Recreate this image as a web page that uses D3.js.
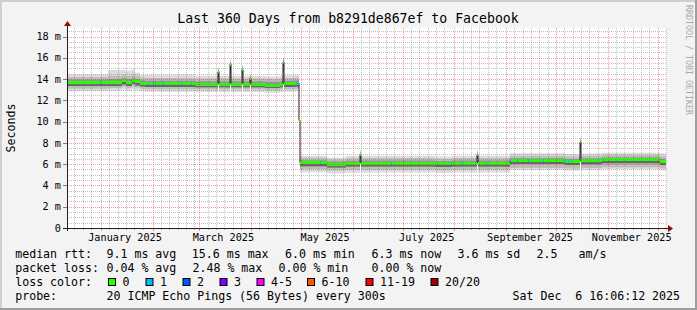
<!DOCTYPE html>
<html>
<head>
<meta charset="utf-8">
<script src="https://cdn.jsdelivr.net/npm/d3@7"></script>
<style>
  body { margin: 0; background: #f3f3f3; }
  svg { display: block; }
  text { font-family: "DejaVu Sans Mono", monospace; white-space: pre; }
</style>
</head>
<body>
<script>
// graph covers 360 days ending Sat Dec 6 16:06:12 2025
const startMs = Date.UTC(2024, 11, 11, 16, 6, 12);
const spanDays = 360;
const endDay = 359.4;   // last consolidated sample

// step data: each value holds from stepDay[i] until the next breakpoint (days after start)
const stepDay = [0, 24.6, 33.0, 35.4, 39.0, 40.8, 43.8, 46.8, 76.8, 90.6,
  91.2, 97.8, 98.4, 105.0, 105.6, 109.8, 110.4, 118.8, 127.8, 129.6,
  130.2, 136.8, 139.2, 139.8, 156.0, 167.4, 175.8, 176.4, 220.8, 231.0,
  246.0, 246.6, 265.8, 298.8, 307.8, 308.4, 321.0, 355.8];

// median rtt (ms)
const median = [13.68, 13.70, 13.85, 13.70, 13.90, 13.75, 13.62, 13.55, 13.50, 14.70,
  13.50, 15.40, 13.50, 14.90, 13.50, 14.10, 13.50, 13.44, 13.50, 15.60,
  13.55, 13.62, 10.10, 6.12, 6.00, 6.08, 6.90, 6.10, 6.05, 6.10,
  6.90, 6.10, 6.33, 6.22, 8.10, 6.30, 6.46, 6.25];

// smoke: spread of the 20 pings (ms), lowest .. highest
const smokeQ0 = [12.85, 12.90, 13.00, 12.90, 13.05, 12.95, 12.85, 12.80, 12.78, 13.60,
  12.78, 13.80, 12.78, 13.70, 12.78, 13.40, 12.78, 12.72, 12.78, 13.90,
  12.80, 12.85, 9.90, 5.25, 5.15, 5.20, 5.90, 5.22, 5.18, 5.22,
  5.90, 5.22, 5.46, 5.40, 6.60, 5.45, 5.52, 5.40];
const smokeQ1 = [13.10, 13.15, 13.25, 13.15, 13.30, 13.20, 13.10, 13.05, 13.02, 13.90,
  13.02, 14.20, 13.02, 14.00, 13.02, 13.60, 13.02, 12.96, 13.02, 14.30,
  13.05, 13.10, 10.00, 5.50, 5.40, 5.46, 6.20, 5.48, 5.44, 5.48,
  6.20, 5.48, 5.64, 5.60, 7.00, 5.63, 5.71, 5.62];
const smokeQ2 = [13.35, 13.35, 13.50, 13.35, 13.55, 13.40, 13.30, 13.25, 13.22, 14.20,
  13.22, 14.60, 13.22, 14.40, 13.22, 13.80, 13.22, 13.16, 13.22, 14.80,
  13.25, 13.30, 10.05, 5.80, 5.68, 5.77, 6.50, 5.78, 5.74, 5.78,
  6.50, 5.78, 6.02, 5.92, 7.50, 6.00, 6.08, 5.92];
const smokeQ3 = [13.95, 14.00, 14.10, 14.00, 14.15, 14.00, 13.90, 13.85, 13.80, 14.85,
  13.80, 15.55, 13.80, 15.05, 13.80, 14.25, 13.80, 13.74, 13.80, 15.75,
  13.85, 13.90, 10.15, 6.37, 6.25, 6.33, 7.05, 6.35, 6.30, 6.35,
  7.05, 6.35, 6.56, 6.48, 8.25, 6.55, 6.65, 6.50];
const smokeQ4 = [14.20, 14.30, 14.40, 14.30, 14.45, 14.30, 14.15, 14.10, 14.05, 15.00,
  14.05, 15.70, 14.05, 15.20, 14.05, 14.40, 14.05, 14.00, 14.05, 15.90,
  14.10, 14.15, 10.20, 6.60, 6.45, 6.56, 7.20, 6.58, 6.52, 6.58,
  7.20, 6.58, 6.80, 6.72, 8.40, 6.78, 6.87, 6.75];
const smokeQ5 = [14.45, 14.85, 14.85, 14.80, 14.90, 14.60, 14.40, 14.40, 14.30, 15.10,
  14.30, 15.85, 14.30, 15.30, 14.30, 14.50, 14.30, 14.25, 14.30, 16.00,
  14.35, 14.40, 10.30, 6.80, 6.62, 6.77, 7.30, 6.78, 6.72, 6.78,
  7.30, 6.78, 7.03, 6.95, 8.55, 7.00, 7.08, 7.00];

// samples where 1 of 20 pings was lost (days after start)
const loss1Day = [19.8, 48.6, 51.6, 52.8, 57.6, 68.4, 74.4, 129.6, 137.4, 138.6,
  151.8, 194.4, 222.0, 230.4, 236.4, 244.8, 251.4, 265.8, 270.0, 276.6,
  285.6, 298.8, 300.6, 302.4, 321.6];

const yTicks = [0, 2, 4, 6, 8, 10, 12, 14, 16, 18];
const yTickLabels = ["0", "2 m", "4 m", "6 m", "8 m", "10 m", "12 m", "14 m", "16 m", "18 m"];
const monthLabels = ["January 2025", "March 2025", "May 2025", "July 2025", "September 2025", "November 2025"];
const monthLabelMs = [Date.UTC(2025, 0, 15, 12), Date.UTC(2025, 2, 15, 12), Date.UTC(2025, 4, 15, 12),
  Date.UTC(2025, 6, 15, 12), Date.UTC(2025, 8, 15, 12), Date.UTC(2025, 10, 15, 12)];

const lossNames = ["0", "1", "2", "3", "4-5", "6-10", "11-19", "20/20"];
const lossColors = ["#26ff00", "#00b8ff", "#0059ff", "#7e00ff", "#ff00ff", "#ff5500", "#ff0000", "#a10000"];

const width = 697, height = 310;
const X0 = 67, X1 = 667, YTOP = 28, YBOT = 228;
const msDay = 86400000;
const toDay = ms => (ms - startMs) / msDay;

let svg = d3.select("body").append("svg")
    .attr("width", width)
    .attr("height", height);

// background with rrdtool style 3d frame
svg.append("rect").attr("width", width).attr("height", height).attr("fill", "#f3f3f3");
svg.append("path").attr("d", `M1,${height} V1 H${width}`).attr("stroke", "#cfcfcf").attr("stroke-width", 2).attr("fill", "none");
svg.append("path").attr("d", `M${width - 1},0 V${height - 1} H0`).attr("stroke", "#9e9e9e").attr("stroke-width", 2).attr("fill", "none");

let x = d3.scaleLinear().domain([0, spanDays]).range([X0, X1]);
let y = d3.scaleLinear().domain([0, 18.8]).range([YBOT, YTOP]);

svg.append("rect")
    .attr("x", X0).attr("y", YTOP)
    .attr("width", X1 - X0).attr("height", YBOT - YTOP)
    .attr("fill", "#ffffff");

// smoke bands
let pts = stepDay.map((d, i) => ({ d: d, i: i }));
pts.push({ d: endDay, i: stepDay.length - 1 });

function band(lo, hi, color) {
    let area = d3.area()
        .curve(d3.curveStepAfter)
        .x(p => x(p.d))
        .y0(p => y(lo[p.i]))
        .y1(p => y(hi[p.i]));
    svg.append("path").attr("d", area(pts)).attr("fill", color);
}
band(smokeQ0, smokeQ5, "#dcdcdc");
band(smokeQ1, smokeQ4, "#bdbdbd");
band(smokeQ2, smokeQ3, "#969696");
band(smokeQ2, median, "#686868");

// thin dark median line
let medLine = d3.line()
    .curve(d3.curveStepAfter)
    .x(p => x(p.d))
    .y(p => y(median[p.i]));
svg.append("path")
    .attr("d", medLine(pts))
    .attr("fill", "none")
    .attr("stroke", "#202020")
    .attr("stroke-width", 1);

// median coloured by loss
svg.append("g")
    .selectAll("rect")
    .data(stepDay)
    .enter().append("rect")
    .attr("x", (d, i) => x(d))
    .attr("width", (d, i) => x(i + 1 < stepDay.length ? stepDay[i + 1] : endDay) - x(d))
    .attr("y", (d, i) => y(median[i]) - 1.5)
    .attr("height", 3)
    .attr("fill", lossColors[0])
    .attr("shape-rendering", "crispEdges");

function medianAt(day) {
    let i = d3.bisectRight(stepDay, day + 1e-6) - 1;
    return median[Math.max(0, i)];
}
svg.append("g")
    .selectAll("rect")
    .data(loss1Day)
    .enter().append("rect")
    .attr("x", d => x(d))
    .attr("width", x(0.6) - x(0))
    .attr("y", d => y(medianAt(d)) - 1.5)
    .attr("height", 3)
    .attr("fill", lossColors[1])
    .attr("shape-rendering", "crispEdges");

// grid, drawn over the data like rrdtool does
let grid = svg.append("g").attr("stroke-dasharray", "1,1").attr("stroke-width", 1);
let minorY = d3.range(0.5, 18.8, 0.5).filter(v => v % 2 !== 0);
grid.selectAll(".hmin").data(minorY).enter().append("line")
    .attr("x1", X0).attr("x2", X1)
    .attr("y1", v => Math.round(y(v)) + 0.5).attr("y2", v => Math.round(y(v)) + 0.5)
    .attr("stroke", "rgba(130,130,130,0.5)");

let start = new Date(startMs), end = new Date(startMs + spanDays * msDay);
let minorX = d3.utcDay.every(5).range(start, end).filter(t => t.getUTCDate() !== 1 && t.getUTCDate() !== 31);
let majorX = d3.utcMonth.range(start, end);
grid.selectAll(".vmin").data(minorX).enter().append("line")
    .attr("x1", t => Math.round(x(toDay(+t))) + 0.5).attr("x2", t => Math.round(x(toDay(+t))) + 0.5)
    .attr("y1", YTOP).attr("y2", YBOT)
    .attr("stroke", "rgba(130,130,130,0.5)");

grid.selectAll(".hmaj").data(yTicks.slice(1)).enter().append("line")
    .attr("x1", X0).attr("x2", X1)
    .attr("y1", v => Math.round(y(v)) + 0.5).attr("y2", v => Math.round(y(v)) + 0.5)
    .attr("stroke", "rgba(235,30,30,0.45)");
grid.selectAll(".vmaj").data(majorX).enter().append("line")
    .attr("x1", t => Math.round(x(toDay(+t))) + 0.5).attr("x2", t => Math.round(x(toDay(+t))) + 0.5)
    .attr("y1", YTOP).attr("y2", YBOT)
    .attr("stroke", "rgba(235,30,30,0.45)");

// axis ticks
svg.append("g").selectAll("line").data(minorX).enter().append("line")
    .attr("x1", t => Math.round(x(toDay(+t))) + 0.5).attr("x2", t => Math.round(x(toDay(+t))) + 0.5)
    .attr("y1", YBOT).attr("y2", YBOT + 2)
    .attr("stroke", "#b0b0b0");
svg.append("g").selectAll("line").data(majorX).enter().append("line")
    .attr("x1", t => Math.round(x(toDay(+t))) + 0.5).attr("x2", t => Math.round(x(toDay(+t))) + 0.5)
    .attr("y1", YBOT).attr("y2", YBOT + 3)
    .attr("stroke", "#f08a8a");
svg.append("g").selectAll("line").data(yTicks).enter().append("line")
    .attr("x1", X0 - 4).attr("x2", X0)
    .attr("y1", v => Math.round(y(v)) + 0.5).attr("y2", v => Math.round(y(v)) + 0.5)
    .attr("stroke", "#808080");

// axes with arrows
svg.append("line").attr("x1", X0 - 4).attr("x2", X1 + 2).attr("y1", YBOT + 0.5).attr("y2", YBOT + 0.5)
    .attr("stroke", "#202020");
svg.append("line").attr("x1", X0 + 0.5).attr("x2", X0 + 0.5).attr("y1", YBOT + 3).attr("y2", YTOP - 3)
    .attr("stroke", "#202020");
svg.append("path").attr("d", `M${X0 - 3},${YTOP - 2} L${X0 + 4},${YTOP - 2} L${X0 + 0.5},${YTOP - 7} Z`).attr("fill", "#8b1010");
svg.append("path").attr("d", `M${X1 + 1},${YBOT - 3} L${X1 + 1},${YBOT + 4} L${X1 + 6},${YBOT + 0.5} Z`).attr("fill", "#8b1010");

// tick labels
svg.append("g").selectAll("text").data(yTicks).enter().append("text")
    .attr("x", 61).attr("y", v => y(v) + 3.7)
    .attr("text-anchor", "end")
    .attr("font-size", "10.2px")
    .attr("fill", "#000")
    .text((v, i) => yTickLabels[i]);

svg.append("g").selectAll("text").data(monthLabels).enter().append("text")
    .attr("x", (s, i) => x(toDay(monthLabelMs[i])))
    .attr("y", 241)
    .attr("text-anchor", "middle")
    .attr("font-size", "10.2px")
    .attr("fill", "#000")
    .text(s => s);

// title and side texts
svg.append("text").attr("x", 348).attr("y", 23.3).attr("text-anchor", "middle")
    .attr("font-size", "13.2px").attr("fill", "#000")
    .text("Last 360 Days from b8291de867ef to Facebook");
svg.append("text").attr("transform", `translate(15,${(YTOP + YBOT) / 2}) rotate(-90)`)
    .attr("text-anchor", "middle").attr("font-size", "11.6px").attr("fill", "#000")
    .text("Seconds");
svg.append("text").attr("transform", "translate(685.5,5) rotate(90)")
    .attr("font-size", "8.3px").attr("fill", "#a8a8a8")
    .text("RRDTOOL / TOBI OETIKER");

// legend
let legendRows = [
    [258, [[15.2, "median rtt:"], [106.5, "9.1 ms avg"], [191.8, "15.6 ms max"], [285, "6.0 ms min"],
           [371.5, "6.3 ms now"], [457.5, "3.6 ms sd"], [536.5, "2.5"], [578.5, "am/s"]]],
    [272, [[15.2, "packet loss:"], [106.5, "0.04 % avg"], [192.5, "2.48 % max"], [278.5, "0.00 % min"],
           [371.5, "0.00 % now"]]],
    [286, [[15.2, "loss color:"]]],
    [300, [[15.2, "probe:"], [106.5, "20 ICMP Echo Pings (56 Bytes) every 300s"], [512.5, "Sat Dec  6 16:06:12 2025"]]]
];
legendRows.forEach(row => {
    svg.append("g").selectAll("text").data(row[1]).enter().append("text")
        .attr("x", d => d[0]).attr("y", row[0])
        .attr("font-size", "11.6px").attr("fill", "#000")
        .text(d => d[1]);
});

let boxX = [108, 145.5, 182.5, 219.5, 256.5, 307, 365.5, 430.5];
let swatch = svg.append("g").selectAll("g").data(lossNames).enter().append("g");
swatch.append("rect")
    .attr("x", (s, i) => boxX[i] + 0.5).attr("y", 278.5)
    .attr("width", 7).attr("height", 7)
    .attr("fill", (s, i) => lossColors[i])
    .attr("stroke", "#000").attr("stroke-width", 1);
swatch.append("text")
    .attr("x", (s, i) => boxX[i] + 14.5).attr("y", 286)
    .attr("font-size", "11.6px").attr("fill", "#000")
    .text(s => s);
</script>
</body>
</html>
